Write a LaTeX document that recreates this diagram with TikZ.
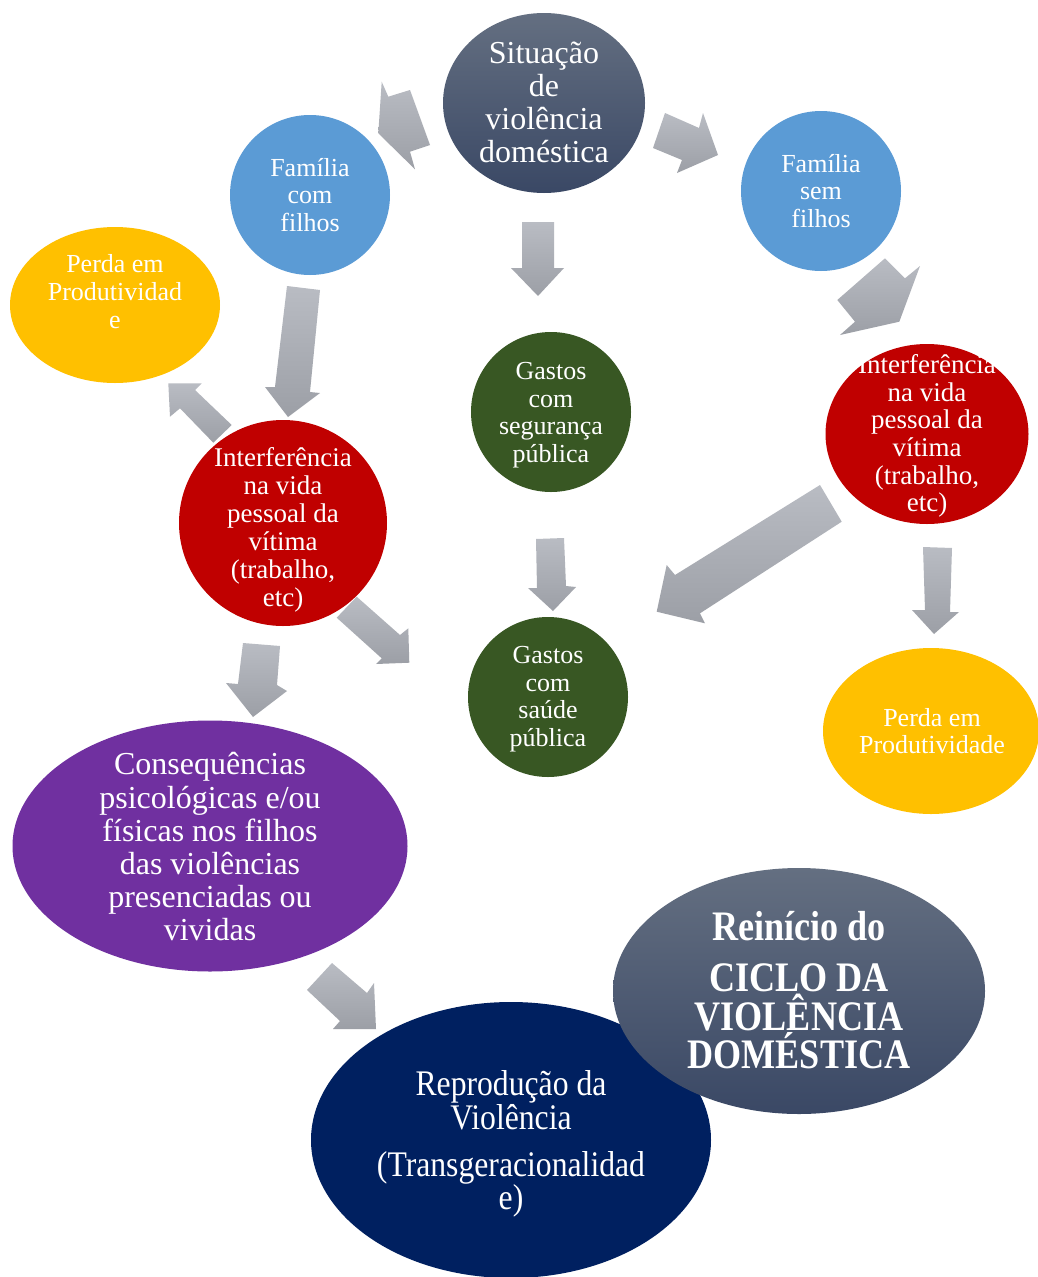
\documentclass[tikz,border=0pt]{standalone}
\usepackage{fontspec}
\setmainfont{Liberation Serif}
\newfontfamily\condfont[FakeStretch=0.88]{Liberation Serif}
\newfontfamily\condboldfont[FakeStretch=0.86,UprightFont=*-Bold]{Liberation Serif}
\usetikzlibrary{shapes.geometric}
\definecolor{slatetop}{RGB}{100,111,129}
\definecolor{slatebot}{RGB}{58,72,101}
\definecolor{arrtop}{RGB}{185,188,195}
\definecolor{arrbot}{RGB}{156,159,166}
\definecolor{famblue}{RGB}{91,155,213}
\definecolor{vred}{RGB}{192,0,0}
\definecolor{vyellow}{RGB}{255,192,0}
\definecolor{vgreen}{RGB}{56,87,35}
\definecolor{vpurple}{RGB}{112,48,160}
\definecolor{vnavy}{RGB}{0,32,96}
\begin{document}
\begin{tikzpicture}[x=1pt,y=-1pt,
  blob/.style={ellipse, draw=none, inner sep=0pt},
  txt/.style={text=white, align=center, inner sep=0pt},
  arrowfill/.style={top color=arrtop, bottom color=arrbot, draw=none}]
\useasboundingbox (0,0) rectangle (1037,1277);
\fill[white] (0,0) rectangle (1037,1277);

% shapes
\node[blob, top color=slatetop, bottom color=slatebot, minimum width=202pt, minimum height=180pt] (sit) at (544,103) {};
\node[blob, fill=famblue, minimum width=160pt, minimum height=160pt] (fcf) at (310,195) {};
\node[blob, fill=famblue, minimum width=160pt, minimum height=160pt] (fsf) at (821,191) {};
\node[blob, fill=vyellow, minimum width=210pt, minimum height=156pt] (perdaL) at (115,305) {};
\node[blob, fill=vred, minimum width=208pt, minimum height=206pt] (intL) at (283,523) {};
\node[blob, fill=vgreen, minimum width=160pt, minimum height=160pt] (gseg) at (551,412) {};
\node[blob, fill=vred, minimum width=203pt, minimum height=180pt] (intR) at (927,434) {};
\node[blob, fill=vgreen, minimum width=160pt, minimum height=160pt] (gsau) at (548,697) {};
\node[blob, fill=vyellow, minimum width=216pt, minimum height=166pt] (perdaR) at (931,731) {};
\node[blob, fill=vpurple, minimum width=395pt, minimum height=251pt] (cons) at (210,846) {};
\node[blob, fill=vnavy, minimum width=400pt, minimum height=276pt] (repr) at (511,1140) {};
\node[blob, top color=slatetop, bottom color=slatebot, minimum width=372pt, minimum height=246pt] (rein) at (799,991) {};

% texts
\node[txt, font=\fontsize{32}{33}\selectfont] (sitT) at (544,102) {Situação\\de\\violência\\doméstica};
\node[txt, font=\fontsize{26}{27.7}\selectfont] (fcfT) at (310,195) {Família\\com\\filhos};
\node[txt, font=\fontsize{26}{27.7}\selectfont] (fsfT) at (821,191) {Família\\sem\\filhos};
\node[txt, font=\fontsize{26}{28}\selectfont] (perdaLT) at (115,292) {Perda em\\Produtividad\\e};
\node[txt, font=\fontsize{27}{28}\selectfont] (intLT) at (283,530) {Interferência\\na vida\\pessoal da\\vítima\\(trabalho,\\etc)};
\node[txt, font=\fontsize{26}{27.6}\selectfont] (gsegT) at (551,415) {Gastos\\com\\segurança\\pública};
\node[txt, font=\fontsize{27}{27.6}\selectfont] (intRT) at (927,436) {Interferência\\na vida\\pessoal da\\vítima\\(trabalho,\\etc)};
\node[txt, font=\fontsize{26}{27.6}\selectfont] (gsauT) at (548,699) {Gastos\\com\\saúde\\pública};
\node[txt, font=\fontsize{26}{27.6}\selectfont] (perdaRT) at (932,731) {Perda em\\Produtividade};
\node[txt, font=\fontsize{32}{33.2}\selectfont] (consT) at (210,847) {Consequências\\psicológicas e/ou\\físicas nos filhos\\das violências\\presenciadas ou\\vividas};
\node[txt, font=\condfont\fontsize{36}{32}\selectfont] (reprT) at (511,1144) {Reprodução da\\Violência\\[15pt](Transgeracionalidad\\e)};
\node[txt, font=\condboldfont\fontsize{42}{38.5}\selectfont] (reinT) at (799,990) {Reinício do\\[13pt]CICLO DA\\VIOLÊNCIA\\DOMÉSTICA};

% block arrows
\shade[arrowfill] (381.7,81.7) -- (378.3,133.3) -- (415,169.3) -- (410,151.7) -- (430,145) -- (410,90) -- (388.3,96.7) -- cycle;
\shade[arrowfill] (653,148) -- (665,113) -- (699,128) -- (703,113) -- (718,155) -- (677,173) -- (682,160) -- cycle;
\shade[arrowfill] (522,222) -- (554,222) -- (554,268) -- (564,268) -- (538,296) -- (511,268) -- (522,268) -- cycle;
\shade[arrowfill] (287,286) -- (320,290) -- (310,392) -- (320,393) -- (288,417) -- (265,387) -- (275,387) -- cycle;
\shade[arrowfill] (168.3,383.3) -- (201.7,383.3) -- (195,390) -- (231.7,425) -- (213.3,442.7) -- (180,408.3) -- (170,416.7) -- cycle;
\shade[arrowfill] (336.7,617.7) -- (356.7,596.7) -- (400,635) -- (408.3,628.3) -- (409.3,662.7) -- (376,664) -- (381.7,658.3) -- cycle;
\shade[arrowfill] (885,258.3) -- (905,278.3) -- (920,266) -- (899.3,321.7) -- (840,335) -- (855,321.7) -- (837.3,300) -- cycle;
\shade[arrowfill] (820,485) -- (841.7,521.7) -- (700,613.3) -- (705,623.3) -- (656.7,611.7) -- (666.7,565) -- (675,575) -- cycle;
\shade[arrowfill] (923,547) -- (952,548) -- (950,612) -- (959,612) -- (934,634) -- (912,610) -- (925,610) -- cycle;
\shade[arrowfill] (536,539) -- (564,538) -- (566,586) -- (576,587) -- (553,611) -- (528,588) -- (537,588) -- cycle;
\shade[arrowfill] (243,643) -- (280,646) -- (277,685) -- (287,691) -- (253,717) -- (226,683) -- (238,684) -- cycle;
\shade[arrowfill] (307,990) -- (332,963) -- (367,993) -- (374,983) -- (376,1029) -- (333,1029) -- (340,1021) -- cycle;
\end{tikzpicture}
\end{document}
